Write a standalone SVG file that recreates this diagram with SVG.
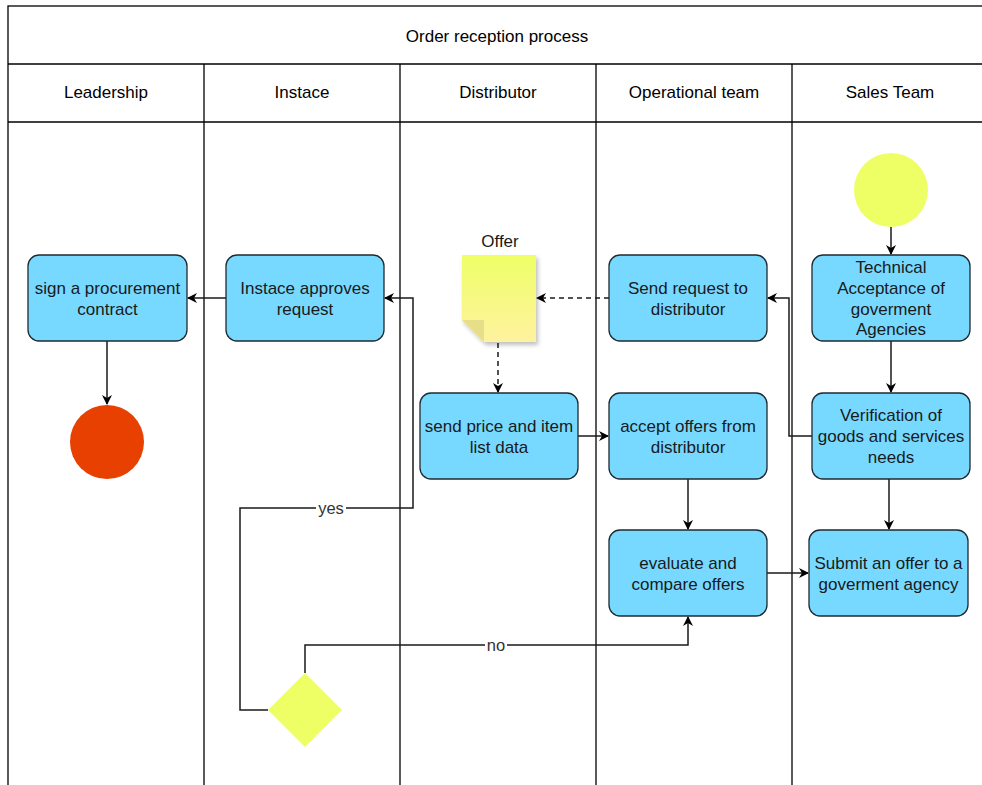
<svg xmlns="http://www.w3.org/2000/svg" width="982" height="785" viewBox="0 0 982 785">
<defs>
<style>
text{font-family:"Liberation Sans",Arial,sans-serif;font-size:17px;fill:#1a1a1a;text-anchor:middle}
.hd{fill:#000}
.lane{fill:none;stroke:#000;stroke-width:1.3}
.task{fill:#77D9FF;stroke:#1f2a30;stroke-width:1.3}
.edge{fill:none;stroke:#1a1a1a;stroke-width:1.5}
.dash{stroke-dasharray:5 4}
.lbl{fill:#333;font-size:16.5px}
</style>
<marker id="arr" viewBox="0 0 10 10" refX="9" refY="5" markerWidth="10" markerHeight="10" markerUnits="userSpaceOnUse" orient="auto">
<path d="M0,0 L10,5 L0,10 L3,5 Z" fill="#000"/>
</marker>
<linearGradient id="noteg" x1="0" y1="0" x2="0" y2="1">
<stop offset="0" stop-color="#EEFF66"/>
<stop offset="1" stop-color="#FFF2A0"/>
</linearGradient>
<filter id="sh" x="-20%" y="-20%" width="150%" height="150%">
<feDropShadow dx="2" dy="3" stdDeviation="2" flood-color="#000" flood-opacity="0.25"/>
</filter>
</defs>
<rect width="982" height="785" fill="#fff"/>
<g id="pool">
<rect class="lane" x="8" y="6" width="990" height="800"/>
<line class="lane" x1="8" y1="64" x2="982" y2="64"/>
<line class="lane" x1="8" y1="122" x2="982" y2="122"/>
<line class="lane" x1="204" y1="64" x2="204" y2="785"/>
<line class="lane" x1="400" y1="64" x2="400" y2="785"/>
<line class="lane" x1="596" y1="64" x2="596" y2="785"/>
<line class="lane" x1="792" y1="64" x2="792" y2="785"/>
<text class="hd" x="497" y="42">Order reception process</text>
<text class="hd" x="106" y="98">Leadership</text>
<text class="hd" x="302" y="98">Instace</text>
<text class="hd" x="498" y="98">Distributor</text>
<text class="hd" x="694" y="98">Operational team</text>
<text class="hd" x="890" y="98">Sales Team</text>
</g>
<g id="connectors">
<path class="edge" d="M226,298 H188" marker-end="url(#arr)"/>
<path class="edge" d="M107,341 V404" marker-end="url(#arr)"/>
<path class="edge dash" d="M609,298 H537" marker-end="url(#arr)"/>
<path class="edge dash" d="M498,343 V392" marker-end="url(#arr)"/>
<path class="edge" d="M578,436 H608" marker-end="url(#arr)"/>
<path class="edge" d="M688,479 V529" marker-end="url(#arr)"/>
<path class="edge" d="M767,573 H808" marker-end="url(#arr)"/>
<path class="edge" d="M891,227 V254" marker-end="url(#arr)"/>
<path class="edge" d="M891,341 V392" marker-end="url(#arr)"/>
<path class="edge" d="M889,479 V529" marker-end="url(#arr)"/>
<path class="edge" d="M812,436 H789 V298 H768" marker-end="url(#arr)"/>
<path class="edge" d="M268,710 H240 V508 H413 V298 H385" marker-end="url(#arr)"/>
<path class="edge" d="M305,673 V645 H688 V617" marker-end="url(#arr)"/>
<rect x="316" y="500" width="30" height="16" fill="#fff"/>
<text class="lbl" x="331" y="514">yes</text>
<rect x="485" y="637" width="22" height="16" fill="#fff"/>
<text class="lbl" x="496" y="651">no</text>
</g>
<g id="start">
<circle cx="891" cy="190" r="37" fill="#EEFF66"/>
</g>
<g id="end">
<circle cx="107" cy="442" r="37" fill="#E84000"/>
</g>
<g id="decision">
<polygon points="305,673 342,710 305,747 268,710" fill="#EEFF66"/>
</g>
<g id="offer">
<path d="M462,255 H536 V342 H484 L462,320 Z" fill="url(#noteg)" filter="url(#sh)"/>
<path d="M462,320 H484 V342 Z" fill="#E6DE88"/>
<text x="500" y="247">Offer</text>
</g>
<g id="sign">
<rect class="task" x="28" y="255" width="159" height="86" rx="11"/>
<text x="107.5" y="294">sign a procurement</text>
<text x="107.5" y="315">contract</text>
</g>
<g id="approve">
<rect class="task" x="226" y="255" width="158" height="86" rx="11"/>
<text x="305" y="294">Instace approves</text>
<text x="305" y="315">request</text>
</g>
<g id="sendprice">
<rect class="task" x="420" y="393" width="158" height="86" rx="11"/>
<text x="499" y="432">send price and item</text>
<text x="499" y="453">list data</text>
</g>
<g id="sendreq">
<rect class="task" x="609" y="255" width="158" height="86" rx="11"/>
<text x="688" y="294">Send request to</text>
<text x="688" y="315">distributor</text>
</g>
<g id="accept">
<rect class="task" x="609" y="393" width="158" height="86" rx="11"/>
<text x="688" y="432">accept offers from</text>
<text x="688" y="453">distributor</text>
</g>
<g id="evaluate">
<rect class="task" x="609" y="530" width="158" height="86" rx="11"/>
<text x="688" y="569">evaluate and</text>
<text x="688" y="590">compare offers</text>
</g>
<g id="technical">
<rect class="task" x="812" y="255" width="158" height="86" rx="11"/>
<text x="891" y="273">Technical</text>
<text x="891" y="294">Acceptance of</text>
<text x="891" y="315">goverment</text>
<text x="891" y="335">Agencies</text>
</g>
<g id="verify">
<rect class="task" x="812" y="393" width="158" height="86" rx="11"/>
<text x="891" y="421">Verification of</text>
<text x="891" y="442">goods and services</text>
<text x="891" y="463">needs</text>
</g>
<g id="submit">
<rect class="task" x="809" y="530" width="159" height="86" rx="11"/>
<text x="888.5" y="569">Submit an offer to a</text>
<text x="888.5" y="590">goverment agency</text>
</g>
</svg>
